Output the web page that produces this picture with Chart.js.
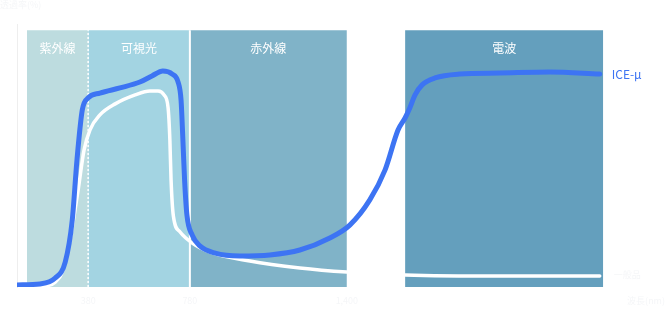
<!DOCTYPE html>
<html><head><meta charset="utf-8">
<script src="https://cdn.jsdelivr.net/npm/chart.js@4/dist/chart.umd.min.js"></script>
<style>html,body{margin:0;padding:0;background:#fff}canvas{display:block}</style>
</head><body>
<canvas id="c" width="670" height="313"></canvas>
<script>
// Positions on an abstract (broken) wavelength axis, 0..100
const bandNames = ['紫外線', '可視光', '赤外線', '電波'];
const bandStart = [1.7, 12.1, 29.4, 66.0];
const bandEnd = [12.1, 29.4, 56.1, 99.7];
const bandColors = ['#bddcdf', '#a3d4e2', '#80b3c8', '#649fbd'];
const tickPositions = [12.1, 29.4, 56.1];
const tickLabels = ['380', '780', '1,400'];

const iceX = [0, 3.9, 6.5, 8.2, 9.4, 10.2, 11.1, 12.1, 14.1, 17.5, 20.9, 22.96, 24.8, 26.4, 27.4, 27.9, 28.2, 28.5, 28.9, 29.8, 31.1, 33.7, 37.9, 43.0, 48.1, 53.2, 56.6, 60.0, 62.6, 64.8, 66.0, 66.8, 67.7, 68.9, 71.1, 75.3, 82.1, 90.6, 99.1];
const iceY = [0.8, 1.2, 3.5, 9.7, 26.1, 49.5, 68.9, 73.6, 75.5, 77.5, 79.8, 82.2, 84.1, 82.9, 79.8, 72.8, 58.0, 41.7, 28.0, 20.2, 16.0, 13.2, 12.1, 12.5, 14.4, 19.1, 24.1, 33.9, 45.6, 61.1, 65.8, 69.7, 74.8, 78.7, 81.4, 82.9, 83.3, 83.7, 82.9];
const baseX = [0, 4.8, 6.5, 7.7, 9.0, 10.4, 11.4, 12.4, 14.1, 16.7, 20.1, 22.6, 24.0, 25.0, 25.7, 26.0, 26.2, 26.6, 27.7, 29.8, 32.8, 39.6, 48.1, 56.1, 66.0, 82.1, 99.1];
const baseY = [0, 0.4, 1.9, 5.8, 18.3, 37.8, 53.3, 61.1, 67.0, 71.3, 74.8, 76.3, 76.3, 74.8, 69.7, 57.2, 41.7, 27.5, 21.5, 17.1, 13.6, 10.1, 7.4, 5.8, 4.7, 4.3, 4.3];
const seriesNames = ['ICE-μ', '一般品'];
const yAxisTitle = '透過率(%)';
const xAxisTitle = '波長(nm)';

const pts = (xs, ys) => xs.map((x, i) => ({x, y: ys[i]}));
const datasets = [];
datasets.push({label: seriesNames[0], data: pts(iceX, iceY), borderColor: '#3d74f3', borderWidth: 5,
  pointRadius: 0, tension: 0.4, cubicInterpolationMode: 'monotone', fill: false, order: 0, borderCapStyle: 'round'});
datasets.push({label: seriesNames[1], data: pts(baseX, baseY), borderColor: '#ffffff', borderWidth: 3.5,
  pointRadius: 0, tension: 0.4, cubicInterpolationMode: 'monotone', fill: false, order: 1, borderCapStyle: 'round'});
bandNames.forEach((n, i) => {
  datasets.push({label: n, data: [{x: bandStart[i], y: 100}, {x: bandEnd[i], y: 100}], borderWidth: 0,
    backgroundColor: bandColors[i], borderColor: 'rgba(0,0,0,0)', fill: 'origin', pointRadius: 0, tension: 0, order: 10});
});
// band dividers
datasets.push({label: 'div1', data: [{x: bandEnd[0], y: 0}, {x: bandEnd[0], y: 100}], borderColor: '#ffffff',
  borderWidth: 1.5, borderDash: [2, 2], pointRadius: 0, fill: false, order: 5});
datasets.push({label: 'div2', data: [{x: bandEnd[1], y: 0}, {x: bandEnd[1], y: 100}], borderColor: '#ffffff',
  borderWidth: 2, pointRadius: 0, fill: false, order: 5});

const labelsPlugin = {
  id: 'labels',
  afterDatasetsDraw(chart) {
    const {ctx, scales: {x, y}} = chart;
    ctx.save();
    ctx.textAlign = 'center';
    ctx.textBaseline = 'middle';
    ctx.font = '12px "Noto Sans CJK JP"';
    ctx.fillStyle = '#ffffff';
    bandNames.forEach((n, i) => {
      ctx.fillText(n, (x.getPixelForValue(bandStart[i]) + x.getPixelForValue(bandEnd[i])) / 2, y.getPixelForValue(92.8));
    });
    // series labels
    ctx.textAlign = 'left';
    ctx.font = '12px "Noto Sans CJK JP"';
    ctx.fillStyle = '#3d74f3';
    ctx.fillText(seriesNames[0], x.getPixelForValue(iceX[iceX.length - 1]) + 12, y.getPixelForValue(iceY[iceY.length - 1]));
    ctx.font = '9px "Noto Sans CJK JP"';
    ctx.fillStyle = '#f5f6f8';
    ctx.fillText(seriesNames[1], x.getPixelForValue(baseX[baseX.length - 1]) + 14, y.getPixelForValue(baseY[baseY.length - 1]) - 1);
    // faint tick labels
    ctx.textAlign = 'center';
    tickPositions.forEach((p, i) => ctx.fillText(tickLabels[i], x.getPixelForValue(p), y.bottom + 14));
    ctx.textAlign = 'right';
    ctx.fillText(xAxisTitle, 665, y.bottom + 14);
    ctx.textAlign = 'left';
    ctx.fillText(yAxisTitle, 0, 5);
    ctx.restore();
  }
};

new Chart(document.getElementById('c'), {
  type: 'line',
  data: {datasets},
  options: {
    responsive: false,
    devicePixelRatio: 1,
    animation: false,
    layout: {padding: {left: 17, right: 65, top: 24, bottom: 26}},
    plugins: {legend: {display: false}, tooltip: {enabled: false}},
    scales: {
      x: {type: 'linear', min: 0, max: 100, display: false},
      y: {type: 'linear', min: 0, max: 102.4, grid: {display: false, drawTicks: false},
        ticks: {display: false}, border: {display: true, color: '#eeeeee', width: 1}}
    }
  },
  plugins: [labelsPlugin]
});
</script>
</body></html>
